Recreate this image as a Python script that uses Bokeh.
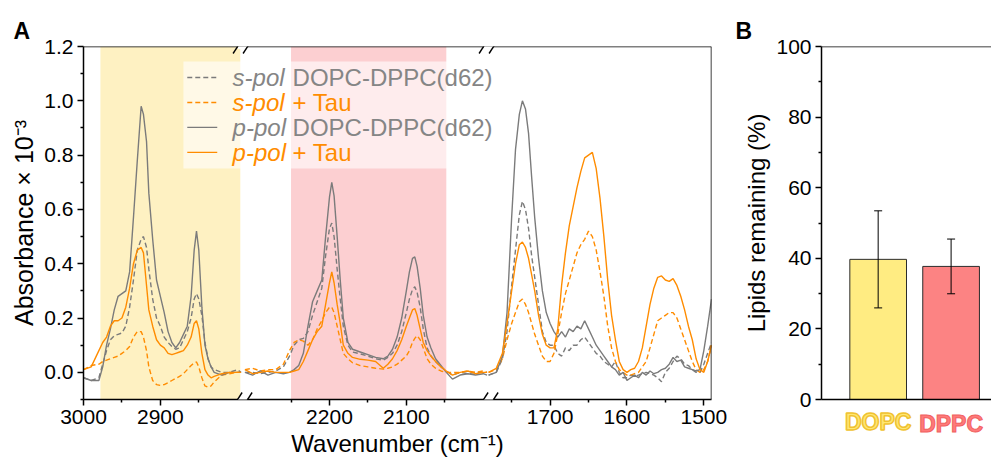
import numpy as np
from bokeh.plotting import figure
from bokeh.models import (Range1d, FixedTicker, PrintfTickFormatter, BoxAnnotation, Span,
                          Label, Arrow, Whisker, ColumnDataSource, TeeHead, Title, LinearAxis)
from bokeh.layouts import row
from bokeh.embed import file_html
from bokeh.resources import INLINE

FONT = "Liberation Sans"

# ---------------- data: panel A (IR spectra, absorbance x 1e-3) ----------------
# broken wavenumber axis: (upper, lower) limits of each shown segment
SEGMENTS = [(3000, 2793), (2313, 1993), (1780, 1490)]

wn1 = [3000, 2990, 2980, 2975, 2970, 2965, 2960, 2955, 2950, 2945, 2940, 2935, 2930, 2925, 2922,
       2918, 2915, 2910, 2905, 2900, 2895, 2890, 2885, 2880, 2875, 2870, 2865, 2860, 2856, 2853,
       2850, 2846, 2842, 2838, 2834, 2830, 2820, 2810, 2800, 2795]
s_dppc1 = [-0.02, -0.03, -0.02, 0.03, 0.08, 0.12, 0.135, 0.14, 0.145, 0.17, 0.24, 0.34, 0.45, 0.49,
           0.50, 0.46, 0.38, 0.27, 0.20, 0.17, 0.13, 0.11, 0.095, 0.085, 0.09, 0.12, 0.15, 0.20,
           0.27, 0.29, 0.27, 0.21, 0.11, 0.05, 0.02, 0.01, 0.0, 0.0, 0.01, 0.0]
s_tau1 = [0.01, 0.025, 0.03, 0.04, 0.045, 0.05, 0.055, 0.06, 0.07, 0.08, 0.095, 0.13, 0.15, 0.15,
          0.13, 0.08, 0.02, -0.03, -0.045, -0.048, -0.045, -0.038, -0.03, -0.022, -0.015, -0.005,
          0.01, 0.025, 0.035, 0.038, 0.02, -0.02, -0.05, -0.055, -0.05, -0.035, -0.01, -0.005, 0.0, 0.0]
p_dppc1 = [-0.02, -0.03, -0.03, 0.02, 0.10, 0.16, 0.23, 0.28, 0.29, 0.30, 0.37, 0.57, 0.78, 0.98,
           0.95, 0.85, 0.66, 0.49, 0.34, 0.28, 0.22, 0.15, 0.11, 0.09, 0.11, 0.14, 0.17, 0.28, 0.45,
           0.52, 0.45, 0.24, 0.10, 0.05, 0.02, 0.00, -0.01, 0.00, 0.00, 0.00]
p_tau1 = [0.01, 0.02, 0.08, 0.11, 0.13, 0.17, 0.19, 0.19, 0.20, 0.24, 0.31, 0.40, 0.45, 0.46, 0.44,
          0.32, 0.23, 0.17, 0.12, 0.10, 0.09, 0.07, 0.065, 0.07, 0.075, 0.08, 0.10, 0.13, 0.18, 0.19,
          0.16, 0.07, 0.01, -0.01, -0.02, -0.015, -0.005, 0.0, 0.0, 0.0]

wn2 = [2310, 2300, 2290, 2280, 2270, 2260, 2252, 2246, 2240, 2234, 2228, 2222, 2216, 2210, 2205,
       2200, 2197, 2194, 2190, 2186, 2182, 2176, 2170, 2160, 2150, 2140, 2130, 2124, 2118, 2112,
       2106, 2100, 2096, 2092, 2089, 2086, 2082, 2078, 2073, 2068, 2062, 2055, 2048, 2040, 2030,
       2020, 2010, 2000, 1995]
s_dppc2 = [0.0, 0.0, -0.005, 0.0, 0.005, 0.02, 0.06, 0.10, 0.12, 0.125, 0.15, 0.21, 0.26, 0.31, 0.43,
           0.53, 0.55, 0.50, 0.38, 0.27, 0.17, 0.10, 0.075, 0.068, 0.06, 0.05, 0.045, 0.055, 0.07,
           0.10, 0.15, 0.22, 0.27, 0.305, 0.315, 0.295, 0.24, 0.16, 0.09, 0.06, 0.04, 0.02, 0.005,
           -0.01, 0.0, -0.005, 0.0, 0.0, 0.0]
s_tau2 = [0.01, 0.015, 0.005, 0.01, 0.01, 0.03, 0.08, 0.11, 0.12, 0.115, 0.10, 0.12, 0.16, 0.19, 0.22,
          0.24, 0.24, 0.22, 0.17, 0.12, 0.07, 0.05, 0.035, 0.025, 0.02, 0.015, 0.012, 0.015, 0.02,
          0.03, 0.045, 0.06, 0.08, 0.11, 0.125, 0.135, 0.12, 0.09, 0.05, 0.03, 0.015, 0.005, 0.0,
          0.0, 0.0, 0.005, 0.0, 0.005, 0.0]
p_dppc2 = [0.0, -0.01, 0.005, -0.01, 0.0, -0.005, 0.0, 0.01, 0.025, 0.07, 0.17, 0.26, 0.30, 0.34,
           0.50, 0.645, 0.70, 0.65, 0.50, 0.34, 0.20, 0.11, 0.085, 0.075, 0.065, 0.055, 0.05, 0.06,
           0.085, 0.13, 0.20, 0.30, 0.37, 0.42, 0.425, 0.39, 0.31, 0.21, 0.13, 0.09, 0.05, 0.025,
           0.0, -0.025, -0.01, -0.005, -0.01, -0.005, -0.01]
p_tau2 = [0.01, -0.005, 0.0, 0.005, 0.0, 0.0, 0.0, 0.005, 0.01, 0.04, 0.08, 0.12, 0.15, 0.17, 0.25,
          0.33, 0.37, 0.33, 0.25, 0.18, 0.10, 0.07, 0.055, 0.048, 0.045, 0.04, 0.015, 0.03, 0.05,
          0.08, 0.12, 0.17, 0.20, 0.23, 0.235, 0.21, 0.16, 0.11, 0.08, 0.06, 0.04, 0.02, 0.005,
          -0.01, 0.0, 0.005, -0.005, 0.0, 0.0]

wn3 = [1780, 1770, 1762, 1756, 1750, 1745, 1740, 1736, 1732, 1728, 1724, 1720, 1715, 1710, 1705,
       1700, 1695, 1690, 1685, 1680, 1675, 1670, 1665, 1660, 1655, 1650, 1645, 1640, 1635, 1630,
       1625, 1620, 1615, 1610, 1605, 1600, 1595, 1590, 1585, 1580, 1575, 1570, 1565, 1560, 1555,
       1550, 1545, 1540, 1535, 1530, 1525, 1520, 1515, 1510, 1505, 1500, 1495, 1490]
s_dppc3 = [-0.01, 0.0, 0.05, 0.15, 0.32, 0.45, 0.58, 0.63, 0.60, 0.53, 0.43, 0.35, 0.25, 0.15, 0.11,
           0.10, 0.10, 0.07, 0.06, 0.09, 0.08, 0.10, 0.10, 0.12, 0.13, 0.11, 0.09, 0.07, 0.06, 0.04,
           0.03, 0.02, 0.04, 0.0, -0.02, -0.02, -0.01, -0.015, -0.01, -0.005, 0.0, -0.005, -0.01,
           -0.02, -0.035, 0.0, 0.015, 0.04, 0.06, 0.05, 0.03, 0.025, 0.01, 0.0, 0.0, 0.03, 0.07, 0.11]
s_tau3 = [0.0, 0.01, 0.05, 0.12, 0.18, 0.22, 0.26, 0.27, 0.25, 0.22, 0.18, 0.14, 0.10, 0.06, 0.04,
          0.04, 0.07, 0.14, 0.22, 0.29, 0.34, 0.39, 0.44, 0.47, 0.49, 0.52, 0.50, 0.45, 0.37, 0.28,
          0.17, 0.09, 0.04, 0.01, 0.0, -0.01, -0.01, -0.005, 0.0, 0.02, 0.04, 0.09, 0.14, 0.19, 0.20,
          0.21, 0.22, 0.22, 0.20, 0.16, 0.12, 0.08, 0.04, 0.01, 0.0, 0.01, 0.04, 0.10]
p_dppc3 = [-0.01, 0.0, 0.06, 0.22, 0.57, 0.82, 0.95, 1.00, 0.97, 0.88, 0.72, 0.57, 0.42, 0.30, 0.22,
           0.18, 0.15, 0.13, 0.15, 0.13, 0.16, 0.15, 0.17, 0.16, 0.19, 0.16, 0.13, 0.10, 0.08, 0.06,
           0.04, 0.02, 0.01, -0.01, 0.0, -0.03, -0.02, -0.01, -0.02, 0.0, -0.01, 0.005, -0.005, 0.0,
           0.01, 0.015, 0.03, 0.055, 0.04, 0.045, 0.02, 0.015, 0.01, 0.005, 0.01, 0.08, 0.17, 0.27]
p_tau3 = [0.0, 0.015, 0.07, 0.18, 0.30, 0.40, 0.47, 0.48, 0.46, 0.42, 0.36, 0.30, 0.21, 0.14, 0.10,
          0.09, 0.09, 0.16, 0.32, 0.44, 0.54, 0.61, 0.68, 0.74, 0.79, 0.80, 0.81, 0.75, 0.64, 0.50,
          0.34, 0.21, 0.12, 0.04, 0.01, 0.0, 0.01, 0.015, 0.04, 0.09, 0.17, 0.25, 0.31, 0.35, 0.355,
          0.34, 0.335, 0.345, 0.32, 0.28, 0.23, 0.17, 0.12, 0.05, 0.01, 0.0, 0.04, 0.10]

series_names = ["s-pol DOPC-DPPC(d62)", "s-pol + Tau", "p-pol DOPC-DPPC(d62)", "p-pol + Tau"]
series_data = [(s_dppc1, s_dppc2, s_dppc3), (s_tau1, s_tau2, s_tau3),
               (p_dppc1, p_dppc2, p_dppc3), (p_tau1, p_tau2, p_tau3)]
legend_italic = ["s-pol", "s-pol", "p-pol", "p-pol"]
legend_rest = ["DOPC-DPPC(d62)", "+ Tau", "DOPC-DPPC(d62)", "+ Tau"]

x_major = [3000, 2900, 2200, 2100, 1700, 1600, 1500]
x_minor = [2950, 2850, 2250, 2150, 2050, 1750, 1650, 1550]
y_major = [0.0, 0.2, 0.4, 0.6, 0.8, 1.0, 1.2]
y_minor = [-0.1, 0.1, 0.3, 0.5, 0.7, 0.9, 1.1]
band_ch = (2978, 2796)   # C-H stretch region (DOPC)
band_cd = (2250, 2048)   # C-D stretch region (DPPC-d62)

# ---------------- data: panel B ----------------
lipids = ["DOPC", "DPPC"]
remaining = [39.7, 37.7]
remaining_err = [13.75, 7.75]

# ---------------- style ----------------
GRAY = "#7b7b7b"
ORANGE = "#ff8c00"
series_colors = [GRAY, ORANGE, GRAY, ORANGE]
series_dash = ["5 3", "5 3", "solid", "solid"]
legend_text_colors = ["#858585", ORANGE, "#858585", ORANGE]
YELLOW_BG = "#fef1c2"
PINK_BG = "#fccfd1"


def to_u(w):
    """Map wavenumbers onto the compressed (broken) axis coordinate."""
    w = np.asarray(w, dtype=float)
    u = np.full_like(w, np.nan)
    off = 0.0
    for hi, lo in SEGMENTS:
        m = (w <= hi) & (w >= lo)
        u[m] = off + (hi - w[m])
        off += hi - lo
    return u


U_TOTAL = float(sum(hi - lo for hi, lo in SEGMENTS))
BREAKS = [float(b) for b in np.cumsum([hi - lo for hi, lo in SEGMENTS])[:-1]]


def style_axis(ax, title_size="24px"):
    ax.axis_line_width = 1.5
    ax.axis_line_color = "black"
    ax.major_tick_line_width = 1.5
    ax.minor_tick_line_width = 1.5
    ax.major_tick_in = 0
    ax.major_tick_out = 6
    ax.minor_tick_in = 0
    ax.minor_tick_out = 3
    ax.major_label_text_font = FONT
    ax.major_label_text_font_size = "21px"
    ax.major_label_text_color = "black"
    ax.major_label_standoff = 4
    ax.axis_label_text_font = FONT
    ax.axis_label_text_font_size = title_size
    ax.axis_label_text_font_style = "normal"
    ax.axis_label_text_color = "black"
    ax.axis_label_standoff = 3


def panel_title(text, offset):
    return Title(text=text, align="left", offset=offset, standoff=6, vertical_align="bottom",
                 text_font=FONT, text_font_size="23px", text_font_style="bold",
                 text_color="black")


# ================= panel A =================
FRAME_W, FRAME_H = 628.0, 353.0
pA = figure(width=733, height=465, x_range=Range1d(0, U_TOTAL), y_range=Range1d(-0.1, 1.2),
            output_backend="svg", toolbar_location=None,
            min_border_left=83, min_border_right=22, min_border_top=46, min_border_bottom=66)
pA.outline_line_color = None
pA.grid.visible = False
pA.background_fill_color = "white"
pA.border_fill_color = "white"
pA.title = panel_title("A", -70)

for band, col in ((band_ch, YELLOW_BG), (band_cd, PINK_BG)):
    uu = to_u(band)
    pA.add_layout(BoxAnnotation(left=float(uu[0]), right=float(uu[1]), fill_color=col,
                                fill_alpha=1.0, line_color=None, level="underlay"))

for name, segs, col, dash in zip(series_names, series_data, series_colors, series_dash):
    xs, ys = [], []
    for wn, vals in zip((wn1, wn2, wn3), segs):
        xs.extend(list(to_u(wn)) + [np.nan])
        ys.extend(list(vals) + [np.nan])
    pA.line(xs[:-1], ys[:-1], line_color=col, line_width=1.4, line_dash=dash)

xa = pA.xaxis[0]
style_axis(xa)
u_major = [int(v) for v in to_u(x_major)]
u_minor = [int(v) for v in to_u(x_minor)]
xa.ticker = FixedTicker(ticks=u_major, minor_ticks=u_minor)
xa.major_label_overrides = {u: str(w) for u, w in zip(u_major, x_major)}
xa.axis_label = "Wavenumber (cm\u207b\u00b9)"

ya = pA.yaxis[0]
style_axis(ya, "25px")
ya.ticker = FixedTicker(ticks=y_major, minor_ticks=y_minor)
ya.formatter = PrintfTickFormatter(format="%.1f")
ya.axis_label = "Absorbance \u00d7 10\u207b\u00b3"

# top and right frame lines
pA.add_layout(Span(location=1.2, dimension="width", line_color="black", line_width=1.5))
pA.add_layout(Span(location=U_TOTAL, dimension="height", line_color="black", line_width=1.5))

# axis-break marks (//) on top and bottom axes
PX_U = FRAME_W / U_TOTAL     # pixels per axis unit (x)
PX_Y = FRAME_H / 1.3         # pixels per absorbance unit (y)
for ub in BREAKS:
    for ya_ in (1.2, -0.1):
        pA.add_layout(Arrow(end=None, x_start=ub - 4.6 / PX_U, x_end=ub + 4.6 / PX_U,
                            y_start=ya_, y_end=ya_, line_color="white", line_width=5,
                            level="overlay"))
        for side in (-1, 1):
            c = ub + side * 5.0 / PX_U
            pA.add_layout(Arrow(end=None, x_start=c - 4.5 / PX_U, y_start=ya_ - 7 / PX_Y,
                                x_end=c + 4.5 / PX_U, y_end=ya_ + 7 / PX_Y,
                                line_color="black", line_width=1.4, level="overlay"))

# legend (manual, to allow italic + normal text in each entry)
LEG_BOX = dict(left=130, right=539, top=1.145, bottom=0.751)
leg_rows_y = [1.086, 0.994, 0.902, 0.810]
pA.add_layout(BoxAnnotation(fill_color="white", fill_alpha=0.6, line_color=None,
                            level="annotation", **LEG_BOX))
for i in range(4):
    yy = leg_rows_y[i]
    pA.add_layout(Arrow(end=None, x_start=135, x_end=174, y_start=yy, y_end=yy,
                        line_color=series_colors[i], line_width=1.4, line_dash=series_dash[i]))
    pA.add_layout(Label(x=194, y=yy, text=legend_italic[i], text_font=FONT,
                        text_font_size="24px", text_font_style="italic",
                        text_color=legend_text_colors[i], text_baseline="middle", text_align="left"))
    pA.add_layout(Label(x=272, y=yy, text=legend_rest[i], text_font=FONT,
                        text_font_size="24px", text_font_style="normal",
                        text_color=legend_text_colors[i], text_baseline="middle", text_align="left"))

# ================= panel B =================
bar_x = [1, 2]
bar_fill = ["#ffec82", "#fc8383"]
lab_fill = ["#ffe773", "#ff7a7a"]
lab_outline = ["#f0c230", "#f06060"]

pB = figure(width=258, height=465, x_range=Range1d(0.223, 2.554), y_range=Range1d(0, 100),
            output_backend="svg", toolbar_location=None,
            min_border_left=88, min_border_right=0, min_border_top=46, min_border_bottom=66)
pB.outline_line_color = None
pB.grid.visible = False
pB.title = panel_title("B", -86)

pB.vbar(x=bar_x, top=remaining, width=0.777, bottom=0, fill_color=bar_fill,
        line_color="#2b2b2b", line_width=1)

src = ColumnDataSource(dict(x=bar_x,
                            upper=[m + e for m, e in zip(remaining, remaining_err)],
                            lower=[m - e for m, e in zip(remaining, remaining_err)]))
wh = Whisker(source=src, base="x", upper="upper", lower="lower", line_color="black",
             line_width=1, level="annotation",
             upper_head=TeeHead(size=8, line_color="black", line_width=1),
             lower_head=TeeHead(size=8, line_color="black", line_width=1))
pB.add_layout(wh)

yb = pB.yaxis[0]
style_axis(yb)
yb.ticker = FixedTicker(ticks=[0, 20, 40, 60, 80, 100], minor_ticks=[10, 30, 50, 70, 90])
yb.axis_label = "Lipids remaining (%)"

pB.add_layout(Span(location=100, dimension="width", line_color="black", line_width=1.5))

# category labels: one bottom axis per bar so that each label keeps its own colour
LAB_STANDOFF = 9
xb = pB.xaxis[0]
xb2 = LinearAxis()
pB.add_layout(xb2, "below")
for k, ax in enumerate((xb, xb2)):
    ax.ticker = FixedTicker(ticks=[bar_x[k]], minor_ticks=[])
    ax.major_label_overrides = {bar_x[k]: lipids[k]}
    ax.major_tick_line_color = None
    ax.minor_tick_line_color = None
    ax.major_tick_out = 0
    ax.major_label_text_font = FONT
    ax.major_label_text_font_size = "23px"
    ax.major_label_text_font_style = "bold"
    ax.major_label_text_color = lab_fill[k]
    ax.major_label_text_outline_color = lab_outline[k]
xb.axis_line_width = 1.5
xb.axis_line_color = "black"
xb.major_label_standoff = LAB_STANDOFF
xb2.axis_line_color = None
xb2.major_label_standoff = -27

layout = row(pA, pB)
open("out.html", "w").write(file_html(layout, INLINE))
